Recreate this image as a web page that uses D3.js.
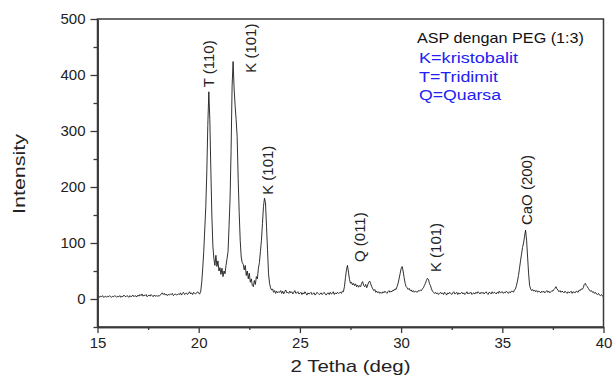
<!DOCTYPE html>
<html>
<head>
<meta charset="utf-8">
<script src="https://cdn.jsdelivr.net/npm/d3@7/dist/d3.min.js"></script>
<style>
  html, body { margin: 0; padding: 0; background: #fff; }
  svg { display: block; font-family: "Liberation Sans", Arial, sans-serif; }
</style>
</head>
<body>
<svg id="chart" width="614" height="381"></svg>
<script>
const scanStart = 15;      // 2θ of first point (deg)
const scanStep = 0.05;     // step size of the scan (deg)
const intensity = [
  // 15.00 - 15.95
  8,6,3,5,4,6,3,4,5,3,5,4,6,4,3,5,4,6,5,3,
  // 16.00 - 16.95
  5,4,6,3,5,4,7,5,4,6,5,3,6,4,5,7,4,6,5,4,
  // 17.00 - 17.95
  7,5,8,6,9,5,7,6,8,4,6,7,5,8,6,4,7,5,6,5,
  // 18.00 - 18.95
  6,5,7,9,11,8,10,7,9,6,8,7,9,8,10,6,8,9,7,8,
  // 19.00 - 19.95
  9,8,11,7,10,12,8,9,11,8,10,13,9,11,8,12,10,9,11,13,
  // 20.00 - 20.95
  10,9,14,30,55,85,125,165,225,310,370,320,230,150,95,72,60,78,58,68,
  // 21.00 - 21.95
  50,56,44,55,40,50,45,60,72,85,130,180,265,380,424,375,345,320,290,215,
  // 22.00 - 22.95
  155,105,75,65,62,52,60,42,50,36,46,30,36,24,22,33,26,40,36,55,
  // 23.00 - 23.95
  65,85,105,135,165,180,172,130,88,45,28,20,16,18,12,15,10,14,11,13,
  // 24.00 - 24.95
  12,15,10,14,9,13,16,11,12,10,14,11,13,9,12,15,10,11,13,9,
  // 25.00 - 25.95
  10,12,8,11,9,13,10,7,11,9,10,12,8,10,11,7,9,12,10,8,
  // 26.00 - 26.95
  9,11,8,10,12,9,7,10,11,8,12,9,10,13,8,11,9,12,10,11,
  // 27.00 - 27.95
  12,10,14,13,22,38,52,60,48,35,28,30,25,28,24,27,22,25,21,24,
  // 28.00 - 28.95
  22,28,31,24,22,26,20,25,30,32,27,22,18,15,17,12,14,11,13,10,
  // 29.00 - 29.95
  12,10,13,11,14,12,10,13,15,12,14,13,16,15,18,17,22,28,36,45,
  // 30.00 - 30.95
  54,58,50,38,28,22,20,17,19,15,16,13,15,12,14,13,12,15,14,16,
  // 31.00 - 31.95
  15,18,20,24,28,33,37,35,28,24,18,14,12,10,12,9,11,8,10,12,
  // 32.00 - 32.95
  9,11,8,12,10,7,11,9,12,10,8,11,13,9,10,12,8,11,9,10,
  // 33.00 - 33.95
  12,9,11,8,10,13,9,11,10,12,8,10,11,9,12,10,13,11,9,12,
  // 34.00 - 34.95
  10,12,9,11,13,10,8,12,11,9,13,10,12,11,9,12,10,14,11,12,
  // 35.00 - 35.95
  13,10,12,11,14,12,10,13,11,14,14,12,16,18,24,32,42,55,68,80,
  // 36.00 - 36.95
  92,100,112,123,105,75,45,24,18,15,17,14,16,13,15,12,14,13,11,14,
  // 37.00 - 37.95
  12,14,11,13,15,12,14,11,13,15,14,17,19,22,18,16,13,15,12,14,
  // 38.00 - 38.95
  13,11,14,12,10,13,11,12,14,10,13,12,11,14,13,12,16,15,18,17,
  // 39.00 - 39.95
  20,26,28,24,22,19,16,14,15,12,13,10,12,9,8,10,7,6,8,5,
  // 40.00
  4
];

const xTicks = [15, 20, 25, 30, 35, 40];
const xMinorTicks = [17.5, 22.5, 27.5, 32.5, 37.5];
const yTicks = [0, 100, 200, 300, 400, 500];
const yMinorTicks = [-50, 50, 150, 250, 350, 450];

const peakNames = ["T (110)", "K (101)", "K (101)", "Q (011)", "K (101)", "CaO (200)"];
const peakLabelAngle = [20.51, 22.58, 23.42, 27.97, 31.72, 36.21];
const peakLabelBase = [378, 404, 186, 66, 48, 132];

const sampleTitle = "ASP dengan PEG (1:3)";
const legendLines = ["K=kristobalit", "T=Tridimit", "Q=Quarsa"];

// ---- drawing ----
const svg = d3.select("#chart");
const margin = { left: 97.5, right: 10.5, top: 19, bottom: 54 };
const W = 614, H = 381;

const x = d3.scaleLinear().domain([15, 40]).range([margin.left, W - margin.right]);
const y = d3.scaleLinear().domain([-50, 500]).range([H - margin.bottom, margin.top]);

const points = intensity.map((v, i) => [scanStart + i * scanStep, v]);

const axisColor = "#3a3a3a";
const textColor = "#222";

// trace
svg.append("path")
  .datum(points)
  .attr("fill", "none")
  .attr("stroke", "#1a1a1a")
  .attr("stroke-width", 0.9)
  .attr("stroke-linejoin", "round")
  .attr("d", d3.line().x(d => x(d[0])).y(d => y(d[1])));

// frame
svg.append("rect")
  .attr("x", x(15)).attr("y", y(500))
  .attr("width", x(40) - x(15)).attr("height", y(-50) - y(500))
  .attr("fill", "none").attr("stroke", axisColor).attr("stroke-width", 1.5);

// bottom axis
svg.append("g").attr("transform", `translate(0,${y(-50)})`)
  .call(d3.axisBottom(x).tickValues(xTicks).tickSize(6).tickSizeOuter(0).tickPadding(4).tickFormat(d3.format("d")));
svg.append("g").attr("transform", `translate(0,${y(-50)})`)
  .call(d3.axisBottom(x).tickValues(xMinorTicks).tickSize(3).tickSizeOuter(0).tickFormat(""));

// left axis
svg.append("g").attr("transform", `translate(${x(15)},0)`)
  .call(d3.axisLeft(y).tickValues(yTicks).tickSize(7).tickSizeOuter(0).tickPadding(5).tickFormat(d3.format("d")));
svg.append("g").attr("transform", `translate(${x(15)},0)`)
  .call(d3.axisLeft(y).tickValues(yMinorTicks).tickSize(4).tickSizeOuter(0).tickFormat(""));

svg.selectAll(".domain").attr("stroke", axisColor).attr("stroke-width", 1.5);
svg.selectAll(".tick line").attr("stroke", axisColor).attr("stroke-width", 1.3);
svg.selectAll(".tick text")
  .attr("fill", textColor)
  .style("font-size", "15px")
  .style("font-family", "'Liberation Sans', Arial, sans-serif");

// axis titles
svg.append("text")
  .attr("x", (x(15) + x(40)) / 2)
  .attr("y", 372)
  .attr("text-anchor", "middle")
  .attr("fill", textColor)
  .attr("textLength", 120)
  .attr("lengthAdjust", "spacingAndGlyphs")
  .style("font-size", "17px")
  .text("2 Tetha (deg)");

svg.append("text")
  .attr("transform", `translate(25,${(y(500) + y(-50)) / 2 + 1}) rotate(-90)`)
  .attr("text-anchor", "middle")
  .attr("fill", textColor)
  .attr("textLength", 80)
  .attr("lengthAdjust", "spacingAndGlyphs")
  .style("font-size", "17px")
  .text("Intensity");

// peak labels
svg.selectAll(".peak")
  .data(peakNames)
  .enter().append("text")
  .attr("class", "peak")
  .attr("transform", (d, i) => `translate(${x(peakLabelAngle[i])},${y(peakLabelBase[i])}) rotate(-90)`)
  .attr("dy", "0.36em")
  .attr("fill", textColor)
  .style("font-size", "15px")
  .text(d => d);

// annotation
svg.append("text")
  .attr("x", 417).attr("y", 43)
  .attr("fill", "#111")
  .attr("textLength", 167)
  .attr("lengthAdjust", "spacingAndGlyphs")
  .style("font-size", "14.5px")
  .text(sampleTitle);

const legendLengths = [99, 79, 82];
svg.selectAll(".leg")
  .data(legendLines)
  .enter().append("text")
  .attr("class", "leg")
  .attr("x", 419)
  .attr("y", (d, i) => 63 + i * 18.5)
  .attr("fill", "#2121f5")
  .attr("textLength", (d, i) => legendLengths[i])
  .attr("lengthAdjust", "spacingAndGlyphs")
  .style("font-size", "15.5px")
  .text(d => d);
</script>
</body>
</html>
